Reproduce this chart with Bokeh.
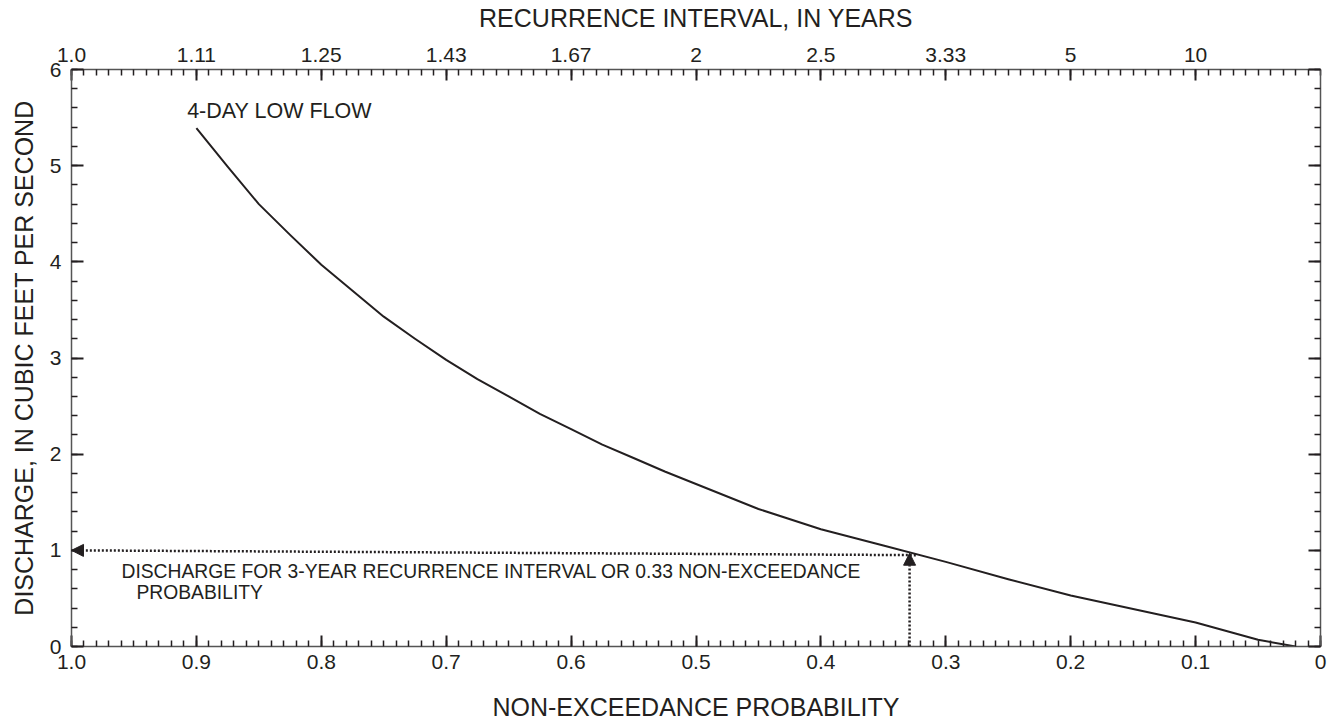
from bokeh.plotting import figure
from bokeh.models import (Range1d, LinearAxis, FixedTicker, Label, Arrow, NormalHead)
from bokeh.embed import file_html
from bokeh.resources import INLINE

# ---- data ----
prob = [0.9, 0.875, 0.85, 0.825, 0.8, 0.775, 0.75, 0.725, 0.7, 0.675, 0.65, 0.625,
        0.6, 0.575, 0.55, 0.525, 0.5, 0.45, 0.4, 0.35, 0.3, 0.25, 0.2, 0.1, 0.05, 0.02]
discharge = [5.39, 4.99, 4.60, 4.28, 3.97, 3.70, 3.43, 3.20, 2.98, 2.78, 2.60, 2.42,
             2.26, 2.10, 1.96, 1.82, 1.69, 1.43, 1.22, 1.05, 0.88, 0.70, 0.53, 0.25, 0.07, 0.0]

bottom_ticks = [1.0, 0.9, 0.8, 0.7, 0.6, 0.5, 0.4, 0.3, 0.2, 0.1, 0.0]
bottom_labels = ["1.0", "0.9", "0.8", "0.7", "0.6", "0.5", "0.4", "0.3", "0.2", "0.1", "0"]
top_ticks = [1.0, 0.9, 0.8, 0.7, 0.6, 0.5, 0.4, 0.3, 0.2, 0.1]
top_labels = ["1.0", "1.11", "1.25", "1.43", "1.67", "2", "2.5", "3.33", "5", "10"]
y_ticks = [0, 1, 2, 3, 4, 5, 6]

# 3-year recurrence / 0.33 non-exceedance marker
marker_p = 0.329
marker_q = 0.97
marker_q_left = 1.0

FONT = "Liberation Sans"
INK = "#231f20"

p = figure(frame_width=1249, frame_height=577,
           x_range=Range1d(1.0, 0.0), y_range=Range1d(0, 6),
           output_backend="svg", toolbar_location=None,
           min_border_left=71, min_border_right=10,
           min_border_top=69, min_border_bottom=72)
p.xgrid.visible = False
p.ygrid.visible = False
p.outline_line_color = None
p.background_fill_color = "white"
p.border_fill_color = "white"

x_minor = [round(i * 0.01, 2) for i in range(101)]
y_minor = [round(i * 0.2, 1) for i in range(31)]


def style(ax, major_in, minor_in):
    ax.axis_line_color = "#555555"
    ax.axis_line_width = 1.5
    ax.major_tick_in = major_in
    ax.major_tick_out = 0
    ax.minor_tick_in = minor_in
    ax.minor_tick_out = 0
    ax.major_tick_line_color = INK
    ax.major_tick_line_width = 2
    ax.minor_tick_line_color = INK
    ax.minor_tick_line_width = 1.5
    ax.major_label_text_font = FONT
    ax.major_label_text_font_size = "21px"
    ax.major_label_text_color = INK
    ax.axis_label_text_font = FONT
    ax.axis_label_text_font_size = "25px"
    ax.axis_label_text_font_style = "normal"
    ax.axis_label_text_color = INK


# bottom axis
xb = p.xaxis[0]
xb.ticker = FixedTicker(ticks=bottom_ticks, minor_ticks=x_minor)
xb.major_label_overrides = {t: l for t, l in zip(bottom_ticks, bottom_labels)}
style(xb, 11, 6)
xb.major_label_standoff = 8
xb.axis_label = "NON-EXCEEDANCE PROBABILITY"
xb.axis_label_standoff = 21

# left axis
yl = p.yaxis[0]
yl.ticker = FixedTicker(ticks=y_ticks, minor_ticks=y_minor)
style(yl, 12, 6)
yl.major_label_standoff = 10
yl.axis_label = "DISCHARGE, IN CUBIC FEET PER SECOND"
yl.axis_label_standoff = 9

# top axis
xt = LinearAxis(ticker=FixedTicker(ticks=top_ticks, minor_ticks=x_minor))
xt.major_label_overrides = {t: l for t, l in zip(top_ticks, top_labels)}
style(xt, 11, 6)
xt.major_label_standoff = 8
xt.axis_label = "RECURRENCE INTERVAL, IN YEARS"
xt.axis_label_standoff = 13
p.add_layout(xt, "above")

# right axis (ticks only)
yr = LinearAxis(ticker=FixedTicker(ticks=y_ticks, minor_ticks=y_minor))
style(yr, 12, 6)
yr.major_label_overrides = {t: "" for t in y_ticks}
yr.major_label_standoff = 0
p.add_layout(yr, "right")

# curve
p.line(prob, discharge, line_color=INK, line_width=2, line_join="round")

# dotted arrows
p.add_layout(Arrow(x_start=marker_p, y_start=0, x_end=marker_p, y_end=marker_q,
                   line_color=INK, line_width=2.5, line_dash="2 2",
                   end=NormalHead(size=12, fill_color=INK, line_color=INK, line_width=1)))
p.add_layout(Arrow(x_start=marker_p - 0.005, y_start=marker_q - 0.02, x_end=1.0, y_end=marker_q_left,
                   line_color=INK, line_width=2.5, line_dash="2 2",
                   end=NormalHead(size=12, fill_color=INK, line_color=INK, line_width=1)))

# annotations
p.add_layout(Label(x=0.9074, y=5.57, text="4-DAY LOW FLOW", text_font=FONT,
                   text_font_size="21.5px", text_color=INK, text_baseline="middle"))
p.add_layout(Label(x=0.96, y=0.785,
                   text="DISCHARGE FOR 3-YEAR RECURRENCE INTERVAL OR 0.33 NON-EXCEEDANCE",
                   text_font=FONT, text_font_size="19.3px", text_color=INK,
                   text_baseline="middle"))
p.add_layout(Label(x=0.948, y=0.561, text="PROBABILITY", text_font=FONT,
                   text_font_size="19.3px", text_color=INK, text_baseline="middle"))

open("out.html", "w").write(file_html(p, INLINE))
